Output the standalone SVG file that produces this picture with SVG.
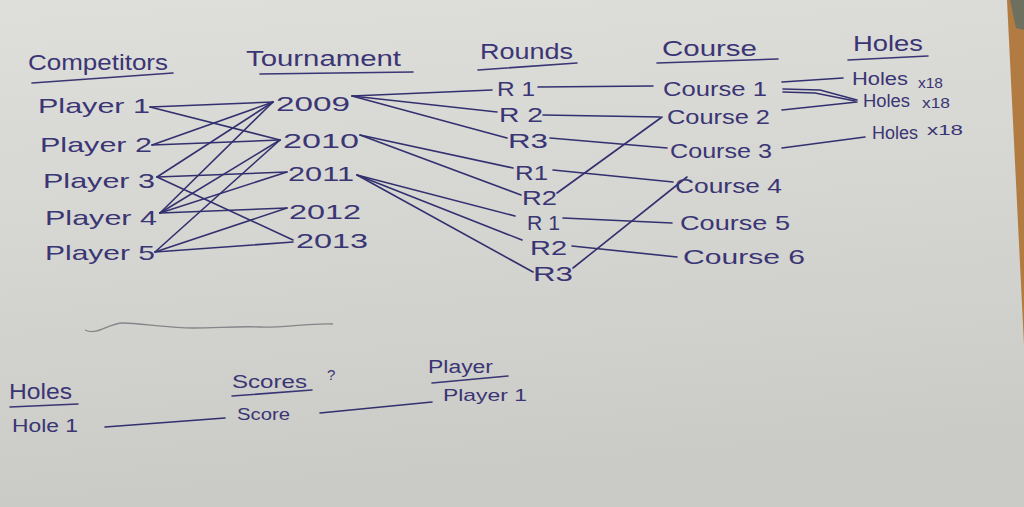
<svg xmlns="http://www.w3.org/2000/svg" width="1024" height="507" viewBox="0 0 1024 507">
<defs>
<linearGradient id="paper" x1="0" y1="0" x2="0.15" y2="1">
<stop offset="0" stop-color="#dededa"/>
<stop offset="0.5" stop-color="#d5d5d1"/>
<stop offset="1" stop-color="#cacac6"/>
</linearGradient>
<style>
text{font-family:"Liberation Sans","DejaVu Sans",sans-serif;fill:#3a3574;lengthAdjust:spacingAndGlyphs}
.h{font-size:22px}
.n{font-size:21px}
.s{font-size:18px}
.l{stroke:#33306f;stroke-width:1.6;fill:none;stroke-linecap:round}
.u{stroke:#3a3574;stroke-width:1.6;fill:none;stroke-linecap:round}
.f{stroke:#85858a;stroke-width:1.3;fill:none}
</style>
</defs>
<rect width="1024" height="507" fill="url(#paper)"/>
<polygon points="1007,0 1024,0 1024,345" fill="#b27b42"/>
<polygon points="1010,0 1024,0 1024,30 1016,28" fill="#6e705f"/>

<g id="headers">
<g id="h-competitors"><text class="h" x="28" y="70" textLength="140" lengthAdjust="spacingAndGlyphs">Competitors</text><line class="u" x1="32" y1="83" x2="173" y2="73"/></g>
<g id="h-tournament"><text class="h" x="246" y="66" textLength="155" lengthAdjust="spacingAndGlyphs">Tournament</text><line class="u" x1="260" y1="74" x2="413" y2="72"/></g>
<g id="h-rounds"><text class="h" x="480" y="59" textLength="93" lengthAdjust="spacingAndGlyphs">Rounds</text><line class="u" x1="478" y1="70" x2="577" y2="63"/></g>
<g id="h-course"><text class="h" x="662" y="56" textLength="95" lengthAdjust="spacingAndGlyphs">Course</text><line class="u" x1="657" y1="63" x2="778" y2="59"/></g>
<g id="h-holes"><text class="h" x="853" y="51" textLength="70" lengthAdjust="spacingAndGlyphs">Holes</text><line class="u" x1="848" y1="60" x2="928" y2="56"/></g>
</g>

<g id="connectors">
<!-- players to tournaments -->
<line class="l" x1="150" y1="107" x2="273" y2="102"/>
<line class="l" x1="150" y1="107" x2="280" y2="140"/>
<line class="l" x1="152" y1="145" x2="273" y2="102"/>
<line class="l" x1="152" y1="145" x2="280" y2="140"/>
<line class="l" x1="157" y1="177" x2="273" y2="102"/>
<line class="l" x1="157" y1="177" x2="287" y2="172"/>
<line class="l" x1="157" y1="177" x2="293" y2="240"/>
<line class="l" x1="160" y1="213" x2="273" y2="102"/>
<line class="l" x1="160" y1="213" x2="280" y2="140"/>
<line class="l" x1="160" y1="213" x2="287" y2="172"/>
<line class="l" x1="160" y1="213" x2="287" y2="208"/>
<line class="l" x1="155" y1="252" x2="280" y2="140"/>
<line class="l" x1="155" y1="252" x2="287" y2="208"/>
<line class="l" x1="155" y1="252" x2="293" y2="242"/>
<!-- tournaments to rounds -->
<line class="l" x1="352" y1="96" x2="492" y2="90"/>
<line class="l" x1="352" y1="96" x2="497" y2="112"/>
<line class="l" x1="352" y1="96" x2="507" y2="138"/>
<line class="l" x1="360" y1="135" x2="513" y2="168"/>
<line class="l" x1="360" y1="135" x2="521" y2="195"/>
<line class="l" x1="357" y1="175" x2="515" y2="216"/>
<line class="l" x1="357" y1="175" x2="522" y2="240"/>
<line class="l" x1="357" y1="175" x2="533" y2="272"/>
<!-- rounds to courses -->
<line class="l" x1="538" y1="87" x2="653" y2="86"/>
<line class="l" x1="543" y1="115" x2="660" y2="117"/>
<line class="l" x1="550" y1="138" x2="667" y2="148"/>
<line class="l" x1="553" y1="170" x2="673" y2="182"/>
<line class="l" x1="557" y1="193" x2="662" y2="117"/>
<line class="l" x1="563" y1="218" x2="672" y2="223"/>
<line class="l" x1="572" y1="246" x2="677" y2="257"/>
<line class="l" x1="573" y1="268" x2="687" y2="177"/>
<!-- courses to holes -->
<line class="l" x1="782" y1="82" x2="843" y2="78"/>
<path class="l" d="M783,89 L820,90 L857,100"/>
<path class="l" d="M783,92 L815,93 L855,101" stroke-width="1"/>
<line class="l" x1="782" y1="110" x2="857" y2="102"/>
<line class="l" x1="782" y1="148" x2="865" y2="137"/>
<!-- bottom -->
<path class="f" d="M85,330 C98,336 108,323 123,323 S170,328 193,328 S240,326 260,327 S310,323 333,324"/>
<line class="l" x1="105" y1="427" x2="225" y2="418" stroke-width="1.3"/>
<line class="l" x1="320" y1="413" x2="432" y2="402" stroke-width="1.3"/>
</g>

<g id="player-1"><text class="n" x="38" y="113" textLength="112" lengthAdjust="spacingAndGlyphs">Player 1</text></g>
<g id="player-2"><text class="n" x="40" y="152" textLength="112" lengthAdjust="spacingAndGlyphs">Player 2</text></g>
<g id="player-3"><text class="n" x="43" y="188" textLength="112" lengthAdjust="spacingAndGlyphs">Player 3</text></g>
<g id="player-4"><text class="n" x="45" y="225" textLength="112" lengthAdjust="spacingAndGlyphs">Player 4</text></g>
<g id="player-5"><text class="n" x="45" y="260" textLength="110" lengthAdjust="spacingAndGlyphs">Player 5</text></g>

<g id="t-2009"><text class="n" x="276" y="111" textLength="74" lengthAdjust="spacingAndGlyphs">2009</text></g>
<g id="t-2010"><text class="n" x="283" y="148" textLength="76" lengthAdjust="spacingAndGlyphs">2010</text></g>
<g id="t-2011"><text class="n" x="288" y="181" textLength="66" lengthAdjust="spacingAndGlyphs">2011</text></g>
<g id="t-2012"><text class="n" x="289" y="219" textLength="72" lengthAdjust="spacingAndGlyphs">2012</text></g>
<g id="t-2013"><text class="n" x="296" y="248" textLength="72" lengthAdjust="spacingAndGlyphs">2013</text></g>

<g id="r-2009-1"><text class="n" x="497" y="96" textLength="38" lengthAdjust="spacingAndGlyphs">R 1</text></g>
<g id="r-2009-2"><text class="n" x="499" y="122" textLength="44" lengthAdjust="spacingAndGlyphs">R 2</text></g>
<g id="r-2009-3"><text class="n" x="508" y="148" textLength="40" lengthAdjust="spacingAndGlyphs">R3</text></g>
<g id="r-2010-1"><text class="n" x="515" y="180" textLength="33" lengthAdjust="spacingAndGlyphs">R1</text></g>
<g id="r-2010-2"><text class="n" x="522" y="205" textLength="35" lengthAdjust="spacingAndGlyphs">R2</text></g>
<g id="r-2011-1"><text class="n" x="527" y="230" textLength="33" lengthAdjust="spacingAndGlyphs">R 1</text></g>
<g id="r-2011-2"><text class="n" x="530" y="255" textLength="37" lengthAdjust="spacingAndGlyphs">R2</text></g>
<g id="r-2011-3"><text class="n" x="533" y="281" textLength="40" lengthAdjust="spacingAndGlyphs">R3</text></g>

<g id="course-1"><text class="n" x="663" y="96" textLength="104" lengthAdjust="spacingAndGlyphs">Course 1</text></g>
<g id="course-2"><text class="n" x="667" y="124" textLength="103" lengthAdjust="spacingAndGlyphs">Course 2</text></g>
<g id="course-3"><text class="n" x="670" y="158" textLength="102" lengthAdjust="spacingAndGlyphs">Course 3</text></g>
<g id="course-4"><text class="n" x="675" y="193" textLength="107" lengthAdjust="spacingAndGlyphs">Course 4</text></g>
<g id="course-5"><text class="n" x="680" y="230" textLength="110" lengthAdjust="spacingAndGlyphs">Course 5</text></g>
<g id="course-6"><text class="n" x="683" y="264" textLength="122" lengthAdjust="spacingAndGlyphs">Course 6</text></g>

<g id="holes-1"><text class="s" x="852" y="85" textLength="56" lengthAdjust="spacingAndGlyphs">Holes</text><text font-size="15" x="918" y="88" textLength="25" lengthAdjust="spacingAndGlyphs">x18</text></g>
<g id="holes-2"><text class="s" x="863" y="107" textLength="47" lengthAdjust="spacingAndGlyphs">Holes</text><text font-size="15" x="922" y="108" textLength="28" lengthAdjust="spacingAndGlyphs">x18</text></g>
<g id="holes-3"><text class="s" x="872" y="139" textLength="46" lengthAdjust="spacingAndGlyphs">Holes</text><text font-size="15" x="927" y="135" textLength="36" lengthAdjust="spacingAndGlyphs">x18</text></g>

<g id="b-holes"><text class="h" x="9" y="399" textLength="63" lengthAdjust="spacingAndGlyphs">Holes</text><line class="u" x1="10" y1="407" x2="78" y2="404"/></g>
<g id="b-hole1"><text class="s" x="12" y="432" textLength="66" lengthAdjust="spacingAndGlyphs">Hole 1</text></g>
<g id="b-scores"><text class="s" x="232" y="388" textLength="75" lengthAdjust="spacingAndGlyphs">Scores</text><line class="u" x1="232" y1="396" x2="312" y2="390"/><text font-size="15" x="327" y="380">?</text></g>
<g id="b-score"><text font-size="16" x="237" y="420" textLength="53" lengthAdjust="spacingAndGlyphs">Score</text></g>
<g id="b-player"><text class="s" x="428" y="373" textLength="65" lengthAdjust="spacingAndGlyphs">Player</text><line class="u" x1="432" y1="383" x2="508" y2="376"/></g>
<g id="b-player1"><text font-size="17" x="443" y="401" textLength="84" lengthAdjust="spacingAndGlyphs">Player 1</text></g>
</svg>
